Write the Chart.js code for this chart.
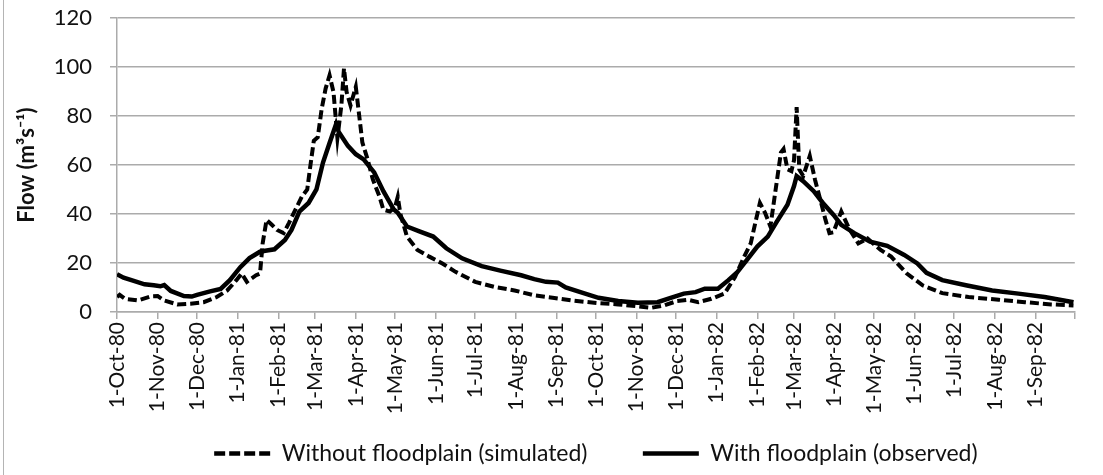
<!DOCTYPE html>
<html>
<head>
<meta charset="utf-8">
<script src="https://cdn.jsdelivr.net/npm/chart.js@4.4.1/dist/chart.umd.min.js"></script>
<style>
  html, body { margin: 0; padding: 0; background: #fff; }
  #wrap { position: relative; width: 1103px; height: 475px; }
  #edge { position: absolute; left: 3px; top: 0; width: 1px; height: 475px; background: #b4b4b4; }
</style>
</head>
<body>
<div id="wrap">
  <canvas id="flowChart" width="1103" height="475"></canvas>
  <div id="edge"></div>
</div>
<script>
// days counted from 1-Oct-80
var monthDays = [0, 31, 61, 92, 123, 151, 182, 212, 243, 273, 304, 335,
                 365, 396, 426, 457, 488, 516, 547, 577, 608, 638, 669, 700, 730];
var monthLabels = ["1-Oct-80", "1-Nov-80", "1-Dec-80", "1-Jan-81", "1-Feb-81", "1-Mar-81",
                   "1-Apr-81", "1-May-81", "1-Jun-81", "1-Jul-81", "1-Aug-81", "1-Sep-81",
                   "1-Oct-81", "1-Nov-81", "1-Dec-81", "1-Jan-82", "1-Feb-82", "1-Mar-82",
                   "1-Apr-82", "1-May-82", "1-Jun-82", "1-Jul-82", "1-Aug-82", "1-Sep-82", ""];

// without floodplain (simulated)
var simDays = [0, 2, 6, 16, 26, 31, 36, 46, 56, 66, 76, 84, 91, 95, 99, 106, 109, 111, 114, 118,
               122, 127, 131, 136, 141, 145, 147, 150, 153, 156, 159, 162, 165, 168, 171, 173, 175,
               178, 182, 184, 187, 191, 195, 200, 203, 208, 212, 214, 216, 221, 229, 238, 248, 258,
               273, 288, 303, 318, 332, 347, 367, 382, 397, 407, 417, 427, 435, 443, 453, 463, 471,
               478, 483, 487, 490, 494, 498, 502, 506, 508, 511, 514, 516, 518, 520, 523, 528, 532,
               536, 540, 543, 546, 552, 558, 565, 572, 582, 590, 602, 614, 629, 649, 672, 692, 712, 729];
var simFlow = [6.1, 7, 5.4, 4.7, 6.4, 6.5, 4.7, 3.1, 3.4, 4, 6.1, 8.8, 13, 15.7, 12.3, 15, 15.7, 28, 37.6, 35.6,
               33.5, 32.2, 36.3, 41.8, 47.2, 50, 58.2, 69.9, 71.3, 82.9, 91.2, 96.6, 89.8, 71, 84.3, 99.4, 89.8,
               84.3, 91.9, 82.9, 69.2, 62.3, 54.1, 47.2, 41.8, 41, 43, 47, 40, 30.8, 25.3, 22.6, 19.8, 16.4,
               12.3, 10.2, 8.8, 6.8, 5.8, 4.7, 3.6, 3.1, 2.3, 1.7, 2.7, 4.5, 5, 4, 5.4, 7.5, 14.3,
               22.6, 28, 37.6, 44.5, 40.4, 34.9, 50, 65.1, 66.5, 58.2, 57.5, 62, 83.6, 58.2, 55.5, 63.7, 54,
               45.9, 37.6, 32.2, 32.5, 41, 34, 28, 30, 25.3, 22.6, 15.7, 10.9, 7.7, 6.1, 5, 4, 3.1, 2.7];

// with floodplain (observed)
var obsDays = [0, 5, 11, 21, 28, 33, 36, 41, 51, 57, 61, 71, 79, 86, 94, 101, 109, 113, 120, 128,
               133, 139, 146, 152, 157, 162, 167, 169, 176, 182, 188, 196, 203, 211, 214, 221, 231, 241,
               251, 263, 278, 293, 308, 318, 327, 336, 342, 355, 367, 382, 397, 412, 422, 432, 441, 448,
               458, 466, 473, 481, 488, 496, 503, 511, 516, 518, 523, 531, 538, 546, 552, 562, 574, 587,
               600, 610, 617, 629, 647, 667, 687, 707, 729];
var obsFlow = [15.4, 14, 13, 11.3, 10.9, 10.5, 11, 8.6, 6.5, 6.3, 7, 8.4, 9.4, 13, 18.3, 22, 24.6, 25, 25.6, 29.4,
               33.5, 41, 44.5, 50, 61, 69, 76.7, 73.5, 67.8, 64.4, 62.3, 57, 49.3, 41.8, 40.5, 34.9, 32.8, 30.8,
               26, 21.9, 18.7, 16.8, 15, 13.4, 12.3, 12, 10, 7.8, 5.8, 4.5, 3.8, 4, 5.8, 7.5, 8.1, 9.5,
               9.5, 13, 16.4, 21.9, 26.7, 30.8, 37, 43.8, 51.4, 55.5, 53.4, 49.3, 44.5, 39.7, 35.6, 32.2, 28.7, 27,
               23.3, 19.8, 16, 13, 10.9, 8.8, 7.5, 6.1, 4];

function toPoints(days, vals) {
  return days.map(function (d, i) { return { x: d, y: vals[i] }; });
}

var gridGray = '#ababab';
var txt = '#111';

var ctx = document.getElementById('flowChart').getContext('2d');
var flowChart = new Chart(ctx, {
  type: 'line',
  data: {
    datasets: [{
        label: 'Without floodplain (simulated)',
        data: toPoints(simDays, simFlow),
        borderColor: '#000',
        backgroundColor: '#000',
        borderWidth: 4,
        borderDash: [9, 4],
        pointRadius: 0,
        tension: 0
      },
      {
        label: 'With floodplain (observed)',
        data: toPoints(obsDays, obsFlow),
        borderColor: '#000',
        backgroundColor: '#000',
        borderWidth: 4.5,
        pointRadius: 0,
        tension: 0
      }
    ]
  },
  options: {
    responsive: false,
    animation: false,
    layout: { padding: { top: 18, right: 12, left: 0, bottom: 0 } },
    plugins: {
      tooltip: { enabled: false },
      legend: {
        position: 'bottom',
        fullSize: false,
        labels: {
          usePointStyle: true,
          pointStyle: 'line',
          pointStyleWidth: 56,
          padding: 20,
          color: txt,
          font: { family: 'Lato', size: 23 },
          generateLabels: function (chart) {
            var items = Chart.defaults.plugins.legend.labels.generateLabels(chart);
            items.forEach(function (it, i) {
              var ds = chart.data.datasets[it.datasetIndex];
              it.lineDash = ds.borderDash ? [11, 4] : [];
              it.lineWidth = 4.5;
              it.strokeStyle = '#000';
              if (i === 0) it.text = it.text + '      ';
            });
            return items;
          }
        }
      }
    },
    scales: {
      x: {
        type: 'linear',
        min: 0,
        max: 730,
        afterBuildTicks: function (scale) {
          scale.ticks = monthDays.map(function (d) { return { value: d }; });
        },
        afterFit: function (scale) { scale.height = 110; },
        ticks: {
          autoSkip: false,
          minRotation: 90,
          maxRotation: 90,
          color: txt,
          font: { family: 'Lato', size: 21 },
          padding: 3,
          callback: function (v, i) { return monthLabels[i]; }
        },
        grid: { drawOnChartArea: false, color: gridGray, lineWidth: 1.5, tickLength: 7 },
        border: { color: gridGray, width: 1.5 }
      },
      y: {
        min: 0,
        max: 120,
        afterFit: function (scale) {
          scale.width = 117;
          scale.paddingTop = 0;
          scale.paddingBottom = 0;
        },
        ticks: { stepSize: 20, color: txt, font: { family: 'Lato', size: 22 }, padding: 18 },
        grid: { color: gridGray, lineWidth: 1.5, tickLength: 7 },
        border: { color: gridGray, width: 1.5 },
        title: {
          display: true,
          text: 'Flow (m³s⁻¹)',
          color: txt,
          font: { family: 'Lato', size: 22, weight: 'bold' },
          padding: { top: 14, bottom: 0 }
        }
      }
    }
  }
});
</script>
</body>
</html>
